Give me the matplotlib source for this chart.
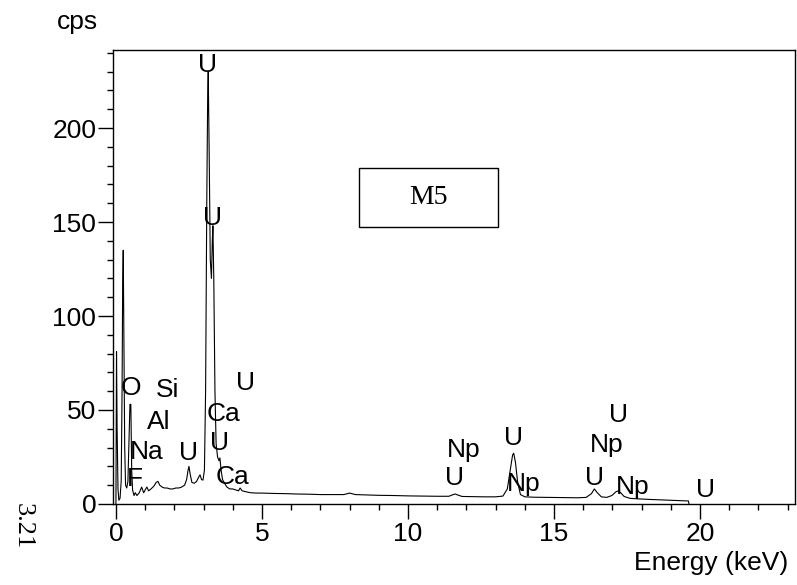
import numpy as np
import matplotlib
matplotlib.use("Agg")
import matplotlib.pyplot as plt
from matplotlib.patches import Rectangle
from matplotlib.ticker import MultipleLocator

plt.rcParams['font.family'] = ['Liberation Sans', 'DejaVu Sans']

# EDS spectrum, sample M5 (energy in keV, counts per second)
energy = [0.00, 0.01, 0.02, 0.04, 0.07, 0.10, 0.14, 0.18, 0.21, 0.23, 0.25, 0.27,
          0.30, 0.33, 0.37, 0.41, 0.45, 0.48, 0.51, 0.54, 0.57, 0.62, 0.66, 0.72,
          0.80, 0.88, 0.95, 1.02, 1.06, 1.12, 1.20, 1.30, 1.38, 1.44, 1.50, 1.58,
          1.66, 1.75, 1.85, 1.95, 2.05, 2.15, 2.25, 2.35, 2.42, 2.47, 2.50, 2.54,
          2.60, 2.68, 2.76, 2.84, 2.88, 2.93, 2.98, 3.03, 3.07, 3.11, 3.14, 3.16,
          3.19, 3.23, 3.27, 3.30, 3.32, 3.35, 3.39, 3.43, 3.48, 3.53, 3.56, 3.60,
          3.65, 3.72, 3.80, 3.90, 4.00, 4.10, 4.20, 4.25, 4.32, 4.45, 4.60, 4.80,
          5.00, 5.40, 5.80, 6.20, 6.60, 7.00, 7.40, 7.80, 8.00, 8.20, 8.60, 9.00,
          9.50, 10.00, 10.50, 11.00, 11.40, 11.55, 11.62, 11.70, 11.85, 12.20,
          12.60, 13.00, 13.25, 13.40, 13.50, 13.58, 13.62, 13.68, 13.75, 13.85,
          14.00, 14.30, 14.80, 15.30, 15.80, 16.10, 16.28, 16.38, 16.48, 16.62,
          16.80, 16.98, 17.12, 17.20, 17.28, 17.40, 17.60, 17.90, 18.30, 18.80,
          19.20, 19.60, 19.62]
cps = [0.0, 45.0, 81.0, 40.0, 8.0, 2.0, 3.0, 12.0, 60.0, 115.0, 135.0, 95.0,
       30.0, 10.0, 8.5, 12.0, 35.0, 53.0, 53.0, 18.0, 7.4, 4.5, 6.0, 4.5,
       6.0, 9.0, 6.0, 8.0, 9.0, 7.0, 8.0, 9.5, 11.5, 12.0, 10.0, 9.0,
       8.5, 8.5, 8.0, 8.0, 8.5, 8.5, 9.0, 10.0, 13.0, 18.0, 20.0, 16.0,
       11.5, 11.0, 12.0, 14.5, 15.5, 13.0, 12.7, 18.0, 60.0, 160.0, 215.0, 230.0,
       190.0, 130.0, 120.0, 140.0, 148.0, 120.0, 60.0, 32.0, 25.0, 23.0, 24.5, 18.0,
       13.0, 11.0, 9.0, 8.0, 8.0, 7.5, 7.0, 8.5, 7.0, 6.5, 6.0, 5.8,
       5.8, 5.6, 5.5, 5.3, 5.2, 5.0, 5.0, 5.0, 5.8, 5.0, 4.8, 4.6,
       4.5, 4.3, 4.2, 4.1, 4.1, 5.0, 5.3, 4.8, 4.0, 3.9,
       3.8, 3.8, 4.2, 8.0, 18.0, 26.0, 27.0, 22.0, 12.0, 5.0,
       3.8, 3.6, 3.5, 3.4, 3.3, 3.5, 5.5, 8.0, 6.0, 3.8,
       3.5, 4.5, 6.5, 7.0, 6.0, 4.0, 3.0, 2.7, 2.4, 2.1,
       1.9, 1.6, 0.0]

# element labels: (text, energy, cps)
labels = ['U', 'U', 'O', 'Si', 'Al', 'Na', 'F', 'U', 'Ca', 'U', 'Ca', 'U',
          'Np', 'U', 'U', 'Np', 'U', 'Np', 'U', 'Np', 'U']
label_x = [3.15, 3.29, 0.51, 1.75, 1.47, 1.06, 0.65, 2.50, 3.67, 3.53, 4.00, 4.42,
           11.90, 11.60, 13.60, 13.95, 16.40, 16.80, 17.20, 17.70, 20.17]
label_y = [233.5, 152.0, 61.7, 60.6, 43.6, 27.7, 13.3, 27.0, 48.0, 32.5, 14.4, 64.4,
           28.7, 13.8, 35.0, 10.6, 13.8, 31.4, 47.3, 9.0, 7.4]

fig = plt.figure(figsize=(7.97, 5.85), dpi=100)
ax = fig.add_axes([0.1418, 0.1385, 0.9975 - 0.1418, 0.9145 - 0.1385])

ax.plot(energy, cps, color='black', lw=0.8)

for t, x, y in zip(labels, label_x, label_y):
    ax.text(x, y, t, ha='center', va='center', fontsize=19)

# sample tag
ax.add_patch(Rectangle((8.32, 147.3), 4.76, 31.4, fill=False, ec='black', lw=1.0))
ax.text(10.70, 163.0, 'M5', ha='center', va='center', fontsize=20,
        family='Liberation Serif')

ax.set_xlim(-0.1, 23.25)
ax.set_ylim(0, 241.5)
ax.xaxis.set_major_locator(MultipleLocator(5))
ax.xaxis.set_minor_locator(MultipleLocator(1))
ax.yaxis.set_major_locator(MultipleLocator(50))
ax.yaxis.set_minor_locator(MultipleLocator(10))
ax.tick_params(which='major', direction='out', length=11, width=1.0,
               labelsize=19, top=False, right=False)
ax.tick_params(axis='y', which='major', pad=1)
ax.tick_params(axis='x', which='major', pad=2)
ax.tick_params(which='minor', direction='out', length=4, width=1.0,
               top=False, right=False)
for s in ax.spines.values():
    s.set_linewidth(1.0)

fig.text(0.097, 0.962, 'cps', ha='center', va='center', fontsize=19)
fig.text(0.989, 0.037, 'Energy (keV)', ha='right', va='center', fontsize=19)
fig.text(0.029, 0.101, '3.21', ha='center', va='center', fontsize=19,
         rotation=-90, family='Liberation Serif')

fig.savefig('out.png', dpi=100)
